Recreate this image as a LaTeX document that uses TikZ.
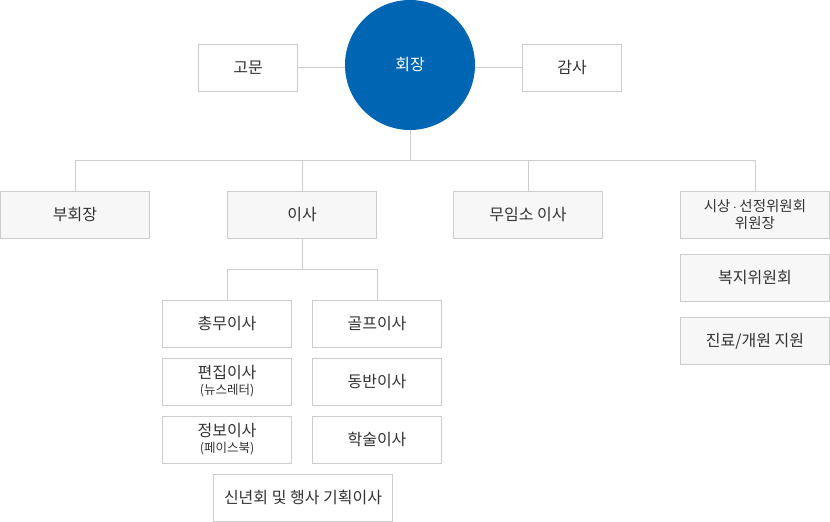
\documentclass[tikz,border=0pt]{standalone}
\usepackage{fontspec}
\setmainfont{Noto Sans CJK KR}
\definecolor{lineg}{HTML}{CCCCCC}
\definecolor{boxg}{HTML}{F7F7F7}
\definecolor{txt}{HTML}{333333}
\definecolor{chairblue}{HTML}{0066B3}
\begin{document}
\begin{tikzpicture}[x=1pt,y=-1pt,
  base/.style={draw=lineg,line width=1pt,rectangle,inner sep=0pt,text=txt,align=center,font=\fontsize{16}{18}\selectfont},
  wbox/.style={base,fill=white,minimum width=99pt,minimum height=47pt},
  gbox/.style={base,fill=boxg,minimum width=149pt,minimum height=47pt},
  sbox/.style={base,fill=white,minimum width=129pt,minimum height=47pt},
  conn/.style={draw=lineg,line width=1pt}]
\useasboundingbox (0,0) rectangle (830,522);
% top
\node[circle,fill=chairblue,minimum size=130pt,inner sep=0pt,text=white,font=\fontsize{16}{18}\selectfont] (chair) at (410,65) {회장};
\node[wbox] (adv) at (248,67.5) {고문};
\node[wbox] (aud) at (572,67.5) {감사};
\draw[conn] (adv.east) -- (chair.west |- adv.east);
\draw[conn] (aud.west) -- (chair.east |- aud.west);
% level 2
\node[gbox] (vp) at (75,214.5) {부회장};
\node[gbox] (dir) at (302,214.5) {이사};
\node[gbox] (free) at (528,214.5) {무임소 이사};
\node[gbox,font=\fontsize{14.5}{17}\selectfont] (comm) at (755,214.5) {시상\,$\cdot$\,선정위원회\\위원장};
\node[gbox] (welf) at (755,278) {복지위원회};
\node[gbox] (care) at (755,341) {진료/개원 지원};
\coordinate (bus) at (410,160);
\draw[conn] (chair.south) -- (bus);
\draw[conn] (vp.north) -- (vp.north |- bus) -- (comm.north |- bus) -- (comm.north);
\draw[conn] (dir.north) -- (dir.north |- bus);
\draw[conn] (free.north) -- (free.north |- bus);
% level 3
\node[sbox] (gen) at (227,323.5) {총무이사};
\node[sbox] (golf) at (377,323.5) {골프이사};
\node[sbox] (edit) at (227,381.5) {편집이사\\[-2pt]{\fontsize{12.5}{13}\selectfont(뉴스레터)}};
\node[sbox] (comp) at (377,381.5) {동반이사};
\node[sbox] (info) at (227,439.5) {정보이사\\[-2pt]{\fontsize{12.5}{13}\selectfont(페이스북)}};
\node[sbox] (acad) at (377,439.5) {학술이사};
\node[base,fill=white,minimum width=179pt,minimum height=47pt] (event) at (303,497.5) {신년회 및 행사 기획이사};
\coordinate (sbus) at (302,269);
\draw[conn] (dir.south) -- (sbus);
\draw[conn] (gen.north) -- (gen.north |- sbus) -- (golf.north |- sbus) -- (golf.north);
\end{tikzpicture}
\end{document}
